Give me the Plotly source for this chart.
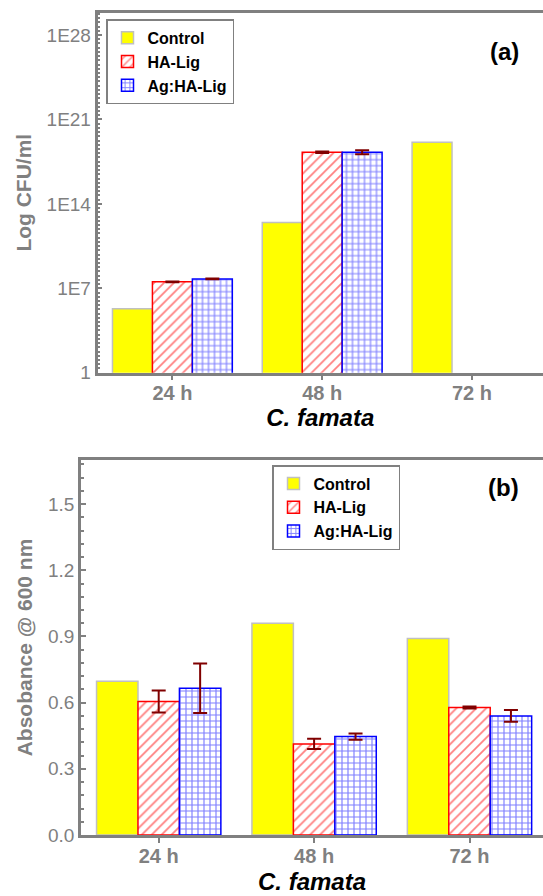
import plotly.graph_objects as go

# ---------------- data ----------------
categories = ["24 h", "48 h", "72 h"]
series_names = ["Control", "HA-Lig", "Ag:HA-Lig"]

# panel (a): CFU/ml (log scale)
cfu_control = [2.0e5, 2.8e12, 1.3e19]
cfu_halig = [3.4e7, 1.9e18, None]
cfu_halig_err = [3.0e6, 2.5e17, 0]
cfu_aghalig = [6.0e7, 1.9e18, None]
cfu_aghalig_err_plus = [4.0e6, 9.0e17, 0]
cfu_aghalig_err_minus = [4.0e6, 6.0e17, 0]
log_tick_vals = [1, 1e7, 1e14, 1e21, 1e28]
log_tick_text = ["1", "1E7", "1E14", "1E21", "1E28"]

# panel (b): absorbance @ 600 nm
abs_control = [0.697, 0.960, 0.891]
abs_halig = [0.605, 0.413, 0.578]
abs_halig_err = [0.050, 0.023, 0.005]
abs_aghalig = [0.665, 0.446, 0.540]
abs_aghalig_err = [0.112, 0.014, 0.027]

# ---------------- styles ----------------
FONT = "Arial, Liberation Sans, Helvetica, sans-serif"
GRAY = "#808080"
ERR = "#800000"
W, H = 543, 896

def ctrl_style():
    return dict(color="#FFFF00", line=dict(color="#C0C0C0", width=1.5))

def ha_style():
    return dict(color="white", line=dict(color="#FF0000", width=1.5),
                pattern=dict(shape="/", fgcolor="#FF0000", bgcolor="white", size=7, solidity=0.25))

def ag_style():
    return dict(color="white", line=dict(color="#0000FF", width=1.5),
                pattern=dict(shape="+", fgcolor="#0000FF", bgcolor="white", size=6, solidity=0.35))

def err(arr, minus=None):
    d = dict(type="data", array=arr, color=ERR, thickness=2, width=7, visible=True)
    if minus is not None:
        d["symmetric"] = False
        d["arrayminus"] = minus
    return d

fig = go.Figure()

# panel (a)
fig.add_trace(go.Bar(x=categories, y=cfu_control, name=series_names[0], marker=ctrl_style(),
                     xaxis="x", yaxis="y", legend="legend"))
fig.add_trace(go.Bar(x=categories, y=cfu_halig, name=series_names[1], marker=ha_style(),
                     error_y=err(cfu_halig_err), xaxis="x", yaxis="y", legend="legend"))
fig.add_trace(go.Bar(x=categories, y=cfu_aghalig, name=series_names[2], marker=ag_style(),
                     error_y=err(cfu_aghalig_err_plus, cfu_aghalig_err_minus),
                     xaxis="x", yaxis="y", legend="legend"))

# panel (b)
fig.add_trace(go.Bar(x=categories, y=abs_control, name=series_names[0], marker=ctrl_style(),
                     xaxis="x2", yaxis="y2", legend="legend2"))
fig.add_trace(go.Bar(x=categories, y=abs_halig, name=series_names[1], marker=ha_style(),
                     error_y=err(abs_halig_err), xaxis="x2", yaxis="y2", legend="legend2"))
fig.add_trace(go.Bar(x=categories, y=abs_aghalig, name=series_names[2], marker=ag_style(),
                     error_y=err(abs_aghalig_err), xaxis="x2", yaxis="y2", legend="legend2"))

def px_x(p):
    return p / W

def px_y(p):
    return 1 - p / H

xa_common = dict(
    showline=True, linecolor=GRAY, linewidth=2.5, mirror=True,
    ticks="outside", ticklen=5, tickwidth=2, tickcolor=GRAY,
    tickfont=dict(family=FONT, size=20, color=GRAY, weight="bold"),
    ticklabelstandoff=-4,
    showgrid=False, zeroline=False, automargin=False, fixedrange=True,
)
ya_common = dict(
    showline=True, linecolor=GRAY, linewidth=2.5, mirror=False,
    ticks="inside", ticklen=5, tickwidth=2, tickcolor=GRAY,
    tickfont=dict(family=FONT, size=19, color=GRAY),
    showgrid=False, zeroline=False, automargin=False, fixedrange=True,
)
xtitle_font = dict(family=FONT, size=24, color="black", weight="bold", style="italic")

# minor tick positions for log axis: 20 per 7 decades
log_minor = [10 ** (k * 0.35) for k in range(0, 86)]

fig.update_layout(
    width=W, height=H,
    margin=dict(l=0, r=0, t=0, b=0),
    paper_bgcolor="white", plot_bgcolor="white",
    barmode="group", bargap=0.2, bargroupgap=0,
    font=dict(family=FONT),
    xaxis=dict(domain=[px_x(97.5), 1], range=[-0.5, 2.474], anchor="y",
               title=dict(text="C. famata", font=xtitle_font, standoff=5), **xa_common),
    yaxis=dict(domain=[px_y(372.7), px_y(12.7)], type="log", range=[0, 29.85], anchor="x",
               tickmode="array", tickvals=log_tick_vals, ticktext=log_tick_text,
               minor=dict(tickmode="array", tickvals=log_minor, ticks="inside", ticklen=3,
                          tickwidth=1.5, tickcolor=GRAY),
               title=dict(text="Log CFU/ml", font=dict(family=FONT, size=21, color=GRAY, weight="bold"),
                          standoff=10),
               **ya_common),
    xaxis2=dict(domain=[px_x(81), 1], range=[-0.5, 2.473], anchor="y2",
                title=dict(text="C. famata", font=xtitle_font, standoff=8), **xa_common),
    yaxis2=dict(domain=[px_y(835), px_y(460)], range=[0, 1.70], anchor="x2",
                tick0=0, dtick=0.3, tickformat=".1f",
                minor=dict(dtick=0.06, ticks="inside", ticklen=3, tickwidth=1.5, tickcolor=GRAY),
                title=dict(text="Absobance @ 600 nm", font=dict(family=FONT, size=21, color=GRAY, weight="bold"),
                           standoff=10),
                **ya_common),
    legend=dict(x=px_x(106), y=px_y(19.3), xanchor="left", yanchor="top",
                bgcolor="white", bordercolor=GRAY, borderwidth=1.5,
                font=dict(family=FONT, size=16, color="black", weight="bold"),
                tracegroupgap=0, itemwidth=30),
    legend2=dict(x=px_x(272), y=px_y(465), xanchor="left", yanchor="top",
                 bgcolor="white", bordercolor=GRAY, borderwidth=1.5,
                 font=dict(family=FONT, size=16, color="black", weight="bold"),
                 tracegroupgap=0, itemwidth=30),
    annotations=[
        dict(text="(a)", x=px_x(521), y=px_y(36), xref="paper", yref="paper",
             showarrow=False, font=dict(family=FONT, size=24, color="black", weight="bold")),
        dict(text="(b)", x=px_x(521), y=px_y(487), xref="paper", yref="paper",
             showarrow=False, font=dict(family=FONT, size=24, color="black", weight="bold")),
    ],
)

fig.write_html("out.html", config={"displayModeBar": False},
               post_script="document.body.style.margin='0';")
